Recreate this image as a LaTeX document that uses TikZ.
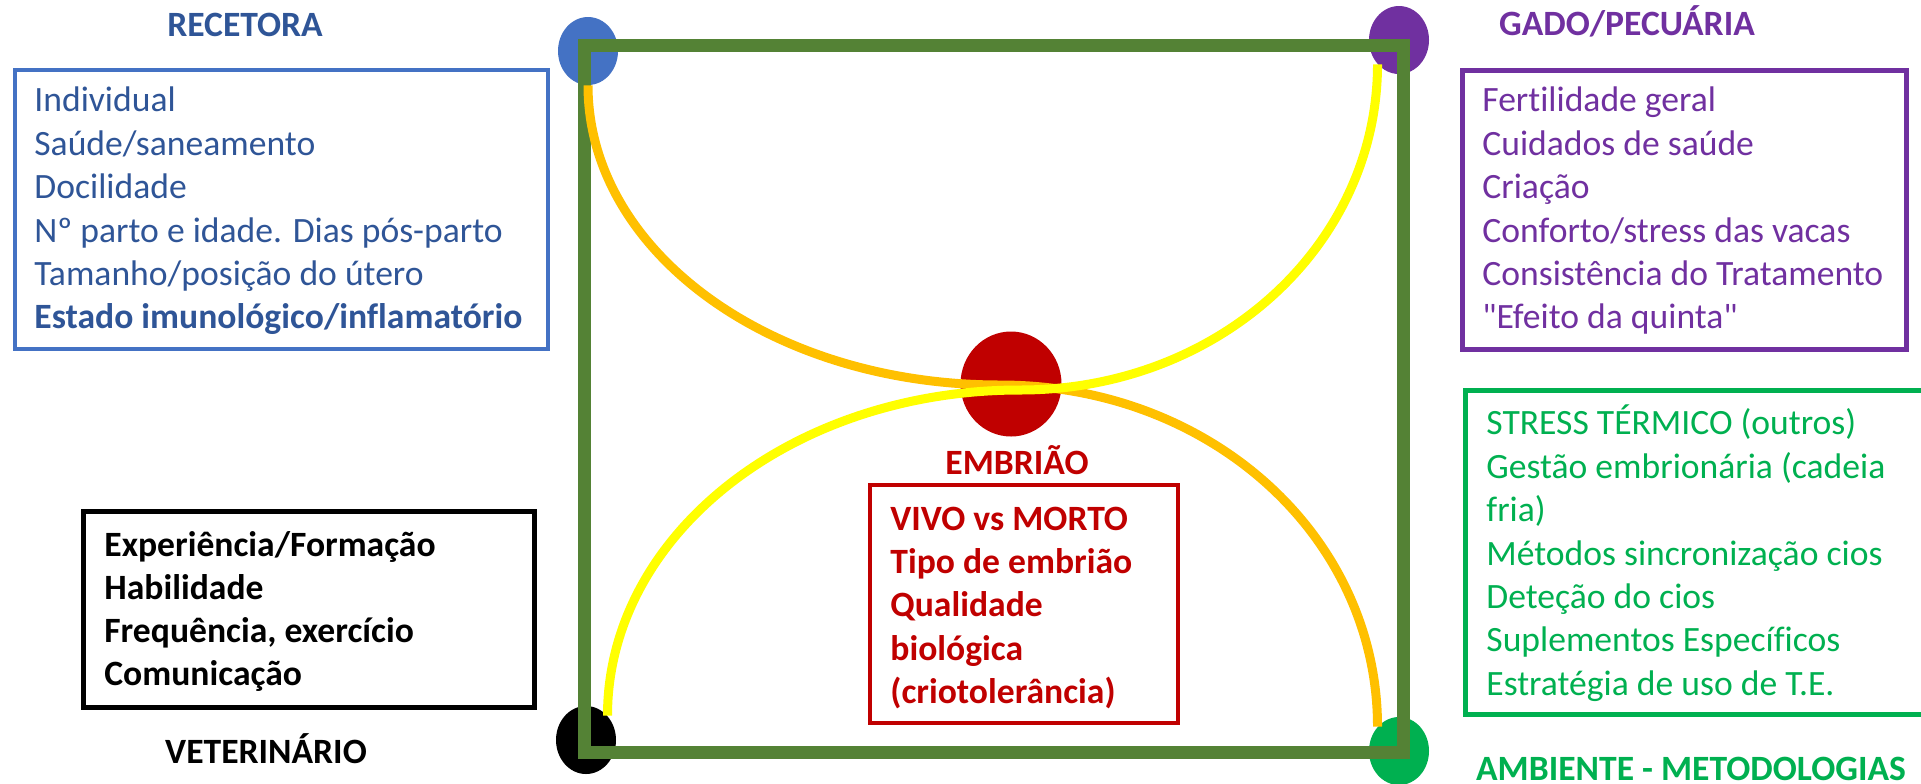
\documentclass[tikz,border=0pt]{standalone}
\usepackage{fontspec}
\newfontfamily\carl{Carlito}[RawFeature={-liga;-clig}]
\usetikzlibrary{shapes.geometric,calc}
\definecolor{cblue}{HTML}{4472C4}
\definecolor{dblue}{HTML}{2F5597}
\definecolor{cpurple}{HTML}{7030A0}
\definecolor{cgreen}{HTML}{00B050}
\definecolor{cframe}{HTML}{548235}
\definecolor{cred}{HTML}{C00000}
\definecolor{corange}{HTML}{FFC000}
\definecolor{cyellow}{HTML}{FFFF00}
\newcommand\firstln{\rule{0pt}{18pt}}
\begin{document}
\begin{tikzpicture}[x=0.5pt,y=-0.5pt,
  txt/.style={font=\carl\fontsize{17.8pt}{21.7pt}\selectfont, align=left, inner sep=0pt, anchor=north west},
  ttl/.style={font=\carl\fontsize{17.8pt}{21.7pt}\selectfont\bfseries, inner sep=0pt, anchor=base},
  box/.style={draw, line width=2pt, inner sep=0pt},
  dot/.style={ellipse, inner sep=0pt, minimum width=30pt, minimum height=34pt},
  curve/.style={line width=4.5pt},
]
\useasboundingbox (0,0) rectangle (1921,783);
% boxes
\node[box, draw=cblue, minimum width=266.5pt, minimum height=139.5pt] (rbox) at (281.5,209.5) {};
\node[box, draw=cpurple, line width=2.5pt, minimum width=222pt, minimum height=139.5pt] (gbox) at (1684,209.5) {};
\node[box, draw=cgreen, line width=2.5pt, minimum width=232.5pt, minimum height=162pt] (abox) at (1697.5,552) {};
\node[box, draw=black, line width=2.5pt, minimum width=225.5pt, minimum height=98pt] (vbox) at (308.5,609) {};
\node[box, draw=cred, minimum width=154pt, minimum height=119pt] (ebox) at (1024,604) {};
% corner dots
\node[dot, fill=cblue] (rec) at (588,51) {};
\node[dot, fill=cpurple] (gado) at (1399,40) {};
\node[dot, fill=black] (vet) at (586,740) {};
\node[dot, fill=cgreen] (amb) at (1399,751) {};
\node[dot, fill=cred, minimum width=50.5pt, minimum height=52.5pt] (emb) at (1011,384) {};
% frame
\node[draw=cframe, line width=6.5pt, minimum width=409.5pt, minimum height=353.5pt, inner sep=0pt] (frame) at (993.5,398.5) {};
% curves
\coordinate (om) at (1000,385);
\coordinate (ym) at (1020,390);
\draw[curve, corange] (rec.south) .. controls +(0,166) and +(-229,0) .. (om)
  .. controls +(211,0) and +(0,-190) .. (amb.north west);
\draw[curve, cyellow] (gado.south west) .. controls +(0,180) and +(200,0) .. (ym)
  .. controls +(-229,0) and +(0,-180) .. (vet.north east);
% titles
\node[ttl, text=dblue] (rt) at (245,36) {RECETORA};
\node[ttl, text=cpurple] (gt) at (1627,35) {GADO/PECUÁRIA};
\node[ttl, text=cred] (et) at (1017,474) {EMBRIÃO};
\node[ttl, text=black] (vt) at (266,763.5) {VETERINÁRIO};
\node[ttl, text=cgreen] (at) at (1691,780) {AMBIENTE - METODOLOGIAS};
% texts
\node[txt, text=dblue] (rtxt) at (34,75.5) {\firstln Individual\\Saúde/saneamento\\Docilidade\\Nº parto e idade. Dias pós-parto\\Tamanho/posição do útero\\\textbf{Estado imunológico/inflamatório}};
\node[txt, text=cpurple] (gtxt) at (1482,75.5) {\firstln Fertilidade geral\\Cuidados de saúde\\Criação\\Conforto/stress das vacas\\Consistência do Tratamento\\"Efeito da quinta"};
\node[txt, text=cgreen] (atxt) at (1486,398.5) {\firstln STRESS TÉRMICO (outros)\\Gestão embrionária (cadeia\\fria)\\Métodos sincronização cios\\Deteção do cios\\Suplementos Específicos\\Estratégia de uso de T.E.};
\node[txt, text=black, font=\carl\fontsize{17.8pt}{21.35pt}\selectfont\bfseries] (vtxt) at (104,520.5) {\firstln Experiência/Formação\\Habilidade\\Frequência, exercício\\Comunicação};
\node[txt, text=cred, font=\carl\fontsize{17.8pt}{21.6pt}\selectfont\bfseries] (etxt) at (890,494) {\firstln VIVO vs MORTO\\Tipo de embrião\\Qualidade\\biológica\\(criotolerância)};
\end{tikzpicture}
\end{document}
